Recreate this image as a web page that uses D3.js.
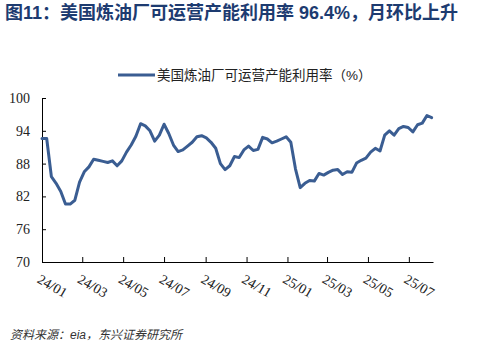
<!DOCTYPE html>
<html>
<head>
<meta charset="utf-8">
<script src="https://cdn.jsdelivr.net/npm/d3@7"></script>
<style>
  html, body { margin: 0; padding: 0; background: #fff; }
  svg { display: block; }
</style>
</head>
<body>
<svg id="chart" width="477" height="357"></svg>
<script>
// ---- data ----
const titleText = "图11：美国炼油厂可运营产能利用率 96.4%，月环比上升";
const seriesName = "美国炼油厂可运营产能利用率（%）";
const sourceText = "资料来源：eia，东兴证券研究所";
const firstWeek = "2024-01-05"; // weekly data, one value per week
const utilization = [
  92.6, 92.6, 85.6, 84.4, 82.9, 80.6, 80.6, 81.3, 84.6, 86.5,
  87.4, 88.8, 88.6, 88.4, 88.2, 88.5, 87.6, 88.5, 90.1, 91.4,
  93.0, 95.3, 94.9, 94.0, 92.1, 93.2, 95.2, 93.5, 91.4, 90.2,
  90.5, 91.2, 91.9, 92.9, 93.1, 92.7, 91.9, 90.8, 88.0, 86.9,
  87.6, 89.3, 89.1, 90.5, 91.2, 90.4, 90.6, 92.8, 92.5, 91.8,
  92.1, 92.5, 92.9, 91.9, 87.0, 83.6, 84.4, 84.9, 84.8, 86.2,
  85.9, 86.4, 86.8, 86.9, 86.0, 86.5, 86.4, 88.1, 88.6, 89.0,
  90.1, 90.8, 90.3, 93.2, 94.0, 93.2, 94.4, 94.8, 94.6, 93.8,
  95.1, 95.4, 96.8, 96.4
];
const xTickDates = ["2024-01-05","2024-03-05","2024-05-05","2024-07-05","2024-09-05",
                    "2024-11-05","2025-01-05","2025-03-05","2025-05-05","2025-07-05"];
const xTickLabels = ["24/01","24/03","24/05","24/07","24/09","24/11","25/01","25/03","25/05","25/07"];
const yTicks = [70, 76, 82, 88, 94, 100];
const xDomainEnd = "2025-08-10";

// ---- build ----
const parse = d3.timeParse("%Y-%m-%d");
const start = parse(firstWeek);
const data = utilization.map((v, i) => ({ date: d3.timeWeek.offset(start, i), value: v }));

const svg = d3.select("#chart");
const lineColor = "#3a5d92";
const cjk = "'Liberation Sans', 'Noto Sans CJK SC', sans-serif";
const serif = "'Liberation Serif', 'DejaVu Serif', serif";

const x = d3.scaleTime().domain([start, parse(xDomainEnd)]).range([42, 433]);
const y = d3.scaleLinear().domain([70, 100]).range([262, 98]);

// title
svg.append("text")
  .attr("x", 5).attr("y", 19)
  .attr("font-family", cjk).attr("font-size", 18).attr("font-weight", "bold")
  .attr("fill", "#1d3b70")
  .text(titleText);

// legend
svg.append("line")
  .attr("x1", 118).attr("x2", 155).attr("y1", 75).attr("y2", 75)
  .attr("stroke", lineColor).attr("stroke-width", 3);
svg.append("text")
  .attr("x", 157).attr("y", 80)
  .attr("font-family", cjk).attr("font-size", 13.5)
  .attr("fill", "#222")
  .text(seriesName);

// y axis
const yAxis = d3.axisLeft(y).tickValues(yTicks).tickSizeInner(-4).tickSizeOuter(0).tickPadding(12);
const gy = svg.append("g").attr("transform", "translate(42,0)").call(yAxis);
gy.selectAll("text").attr("font-family", serif).attr("font-size", 14).attr("fill", "#222");
gy.select(".domain").attr("stroke", "#000");
gy.selectAll(".tick line").attr("stroke", "#000");

// x axis
const tickDates = xTickDates.map(parse);
const xAxis = d3.axisBottom(x).tickValues(tickDates)
  .tickFormat((d, i) => xTickLabels[i]).tickSizeInner(-5).tickSizeOuter(0);
const gx = svg.append("g").attr("transform", "translate(0,262)").call(xAxis);
gx.select(".domain").attr("stroke", "#000");
gx.selectAll(".tick line").attr("stroke", "#000");
gx.selectAll("text")
  .attr("font-family", serif).attr("font-size", 14).attr("fill", "#222")
  .attr("text-anchor", "start")
  .attr("x", 0).attr("y", 0).attr("dy", "0.75em")
  .attr("transform", "translate(-1,11) rotate(30)");

// line
const line = d3.line().x(d => x(d.date)).y(d => y(d.value)).curve(d3.curveLinear);
svg.append("path").datum(data)
  .attr("d", line)
  .attr("fill", "none")
  .attr("stroke", lineColor)
  .attr("stroke-width", 3)
  .attr("stroke-linejoin", "round")
  .attr("stroke-linecap", "round");

// source
svg.append("text")
  .attr("x", 10).attr("y", 339)
  .attr("font-family", cjk).attr("font-size", 12).attr("font-style", "italic")
  .attr("fill", "#333")
  .text(sourceText);
</script>
</body>
</html>
